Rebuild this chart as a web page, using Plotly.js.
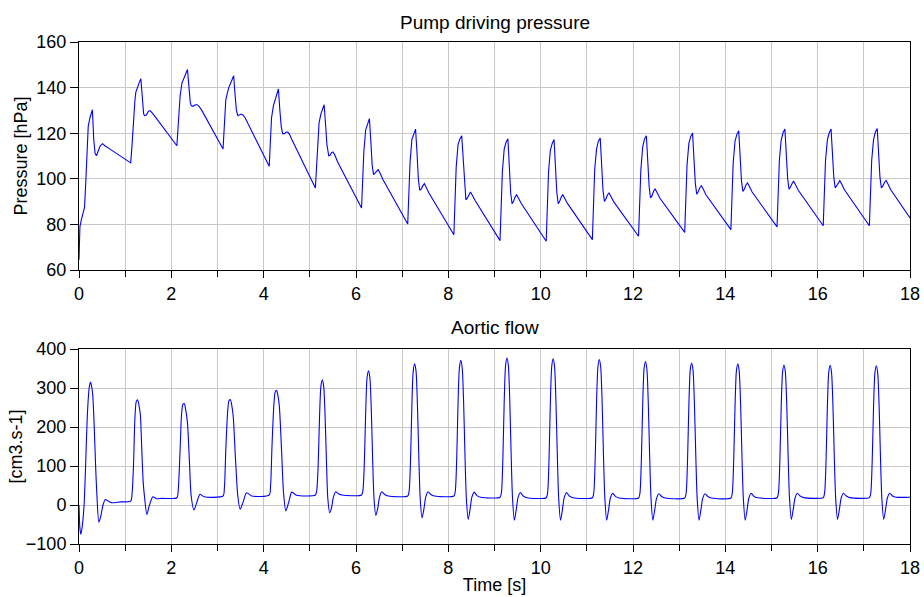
<!DOCTYPE html>
<html>
<head>
<meta charset="utf-8">
<script src="https://cdn.plot.ly/plotly-3.0.1.min.js"></script>
<style>html,body{margin:0;padding:0;background:#fff;}#chart{width:924px;height:597px;}</style>
</head>
<body>
<div id="chart"></div>
<script>
// Pump driving pressure [hPa] vs time [s]
const pressTime = [
  0, 0.02, 0.05, 0.08, 0.12, 0.15, 0.18, 0.2, 0.24, 0.29, 0.32, 0.35, 0.38, 0.42, 0.46, 0.51, 0.56, 0.67, 0.9, 1.12,
  1.15, 1.18, 1.21, 1.23, 1.27, 1.31, 1.34, 1.37, 1.4, 1.42, 1.46, 1.5, 1.54, 1.58, 1.64, 2.12,
  2.15, 2.19, 2.23, 2.27, 2.31, 2.35, 2.38, 2.41, 2.43, 2.47, 2.52, 2.56, 2.6, 2.66, 3.12,
  3.15, 3.18, 3.24, 3.28, 3.32, 3.35, 3.38, 3.41, 3.44, 3.48, 3.51, 3.55, 3.6, 4.12,
  4.15, 4.17, 4.21, 4.25, 4.29, 4.32, 4.35, 4.38, 4.41, 4.45, 4.49, 4.52, 4.56, 4.61, 5.12,
  5.15, 5.17, 5.2, 5.24, 5.28, 5.31, 5.34, 5.37, 5.41, 5.44, 5.47, 5.5, 5.54, 5.6, 6.12,
  6.15, 6.17, 6.21, 6.25, 6.29, 6.32, 6.35, 6.38, 6.41, 6.45, 6.48, 6.52, 6.58, 7.12,
  7.15, 7.17, 7.21, 7.25, 7.29, 7.32, 7.35, 7.38, 7.41, 7.45, 7.48, 7.52, 7.58, 8.12,
  8.15, 8.17, 8.21, 8.25, 8.29, 8.32, 8.35, 8.38, 8.41, 8.45, 8.48, 8.52, 8.58, 9.12,
  9.15, 9.17, 9.21, 9.25, 9.29, 9.32, 9.35, 9.38, 9.41, 9.45, 9.48, 9.52, 9.58, 10.12,
  10.15, 10.17, 10.21, 10.25, 10.29, 10.32, 10.35, 10.38, 10.41, 10.45, 10.48, 10.52, 10.58, 11.12,
  11.15, 11.17, 11.21, 11.25, 11.29, 11.32, 11.35, 11.38, 11.41, 11.45, 11.48, 11.52, 11.58, 12.12,
  12.15, 12.17, 12.21, 12.25, 12.29, 12.32, 12.35, 12.38, 12.41, 12.45, 12.48, 12.52, 12.58, 13.12,
  13.15, 13.17, 13.21, 13.25, 13.29, 13.32, 13.35, 13.38, 13.41, 13.45, 13.48, 13.52, 13.58, 14.12,
  14.15, 14.17, 14.21, 14.25, 14.29, 14.32, 14.35, 14.38, 14.41, 14.45, 14.48, 14.52, 14.58, 15.12,
  15.15, 15.17, 15.21, 15.25, 15.29, 15.32, 15.35, 15.38, 15.41, 15.45, 15.48, 15.52, 15.58, 16.12,
  16.15, 16.17, 16.21, 16.25, 16.29, 16.32, 16.35, 16.38, 16.41, 16.45, 16.48, 16.52, 16.58, 17.12,
  17.15, 17.17, 17.21, 17.25, 17.29, 17.32, 17.35, 17.38, 17.41, 17.45, 17.48, 17.52, 17.58, 18.0
];
const pressValue = [
  64.5, 79, 82, 84, 87.5, 100, 116, 123, 127, 130.3, 117, 111, 110.2, 112, 114.5, 115.4, 114.5, 113, 110, 107,
  115, 126, 134, 137.9, 140.5, 142.5, 143.9, 134, 128.5, 127.7, 128, 129.5, 129.9, 129, 127.5, 114.5,
  124, 136.2, 142, 144.5, 146, 147.9, 140, 133.5, 132.1, 131.8, 132.5, 132.5, 131.8, 130, 113.1,
  124, 134.7, 139.8, 142, 143.8, 145.2, 137, 130, 127.7, 128, 128.4, 128, 126.7, 105.5,
  118, 126.7, 132, 134.7, 137, 139.4, 130.3, 123, 119.8, 119.8, 120.5, 120.5, 119.5, 117.2, 96,
  108, 117, 124.5, 128.5, 131, 132.5, 124, 115, 110.1, 110.3, 111.5, 111.8, 110.5, 107.5, 87.2,
  100, 112, 121.5, 124, 126.4, 117, 106, 101.8, 102.5, 103.8, 104, 102.5, 99.8, 80.2,
  95, 107, 117.2, 120, 121.8, 112, 100, 95, 95.5, 97, 97.9, 96.3, 93.8, 75.5,
  90, 105, 115, 117.5, 118.9, 108, 96, 90.8, 91.5, 93.5, 94.2, 92.8, 90.5, 72.9,
  88, 103, 113, 116, 117.6, 106, 94, 89.1, 90, 92.2, 93, 91.5, 89.2, 72.6,
  88, 103, 112.5, 115.5, 117.2, 106, 94, 89.1, 90, 92.2, 93, 91.5, 89.2, 73.3,
  89, 104, 113, 116.5, 117.9, 107, 95, 90.1, 91, 93, 93.8, 92.3, 90, 74.8,
  90, 104, 114, 117.5, 118.9, 108, 96.5, 91.6, 92.5, 94.7, 95.5, 94, 91.6, 76.5,
  92, 106, 115.5, 118.5, 120.1, 109, 98, 93.3, 94.2, 96.2, 97, 95.5, 93, 77.7,
  93, 107, 116.5, 119.5, 121.1, 110, 99, 94.5, 95.4, 97.4, 98.2, 96.7, 94.2, 78.9,
  94, 108, 117, 120.2, 121.8, 111, 100, 95.5, 96.3, 98.1, 98.9, 97.4, 95, 79.4,
  94, 108, 117, 120.2, 121.8, 111, 100.5, 96, 96.8, 98.4, 99.2, 97.7, 95.2, 79.4,
  94, 108, 117.2, 120.5, 122.1, 111, 100.5, 96, 96.8, 98.5, 99.3, 97.8, 95.3, 82.8
];

// Aortic flow [cm3.s-1] vs time [s]
const flowTime = [
  0, 0.02, 0.04, 0.07, 0.11, 0.14, 0.18, 0.22, 0.25, 0.28, 0.3, 0.33, 0.36, 0.39, 0.43, 0.47, 0.52, 0.57, 0.62, 0.7, 0.9, 1.12,
  1.15, 1.18, 1.21, 1.24, 1.27, 1.3, 1.33, 1.36, 1.39, 1.42, 1.47, 1.52, 1.6, 1.68, 1.8, 2.12,
  2.15, 2.19, 2.22, 2.25, 2.28, 2.31, 2.35, 2.39, 2.43, 2.49, 2.55, 2.62, 2.71, 3.12,
  3.15, 3.18, 3.22, 3.25, 3.28, 3.31, 3.34, 3.39, 3.44, 3.49, 3.55, 3.63, 3.74, 4.12,
  4.15, 4.18, 4.22, 4.25, 4.28, 4.31, 4.34, 4.39, 4.43, 4.48, 4.54, 4.61, 4.71, 5.12,
  5.15, 5.18, 5.21, 5.24, 5.27, 5.30, 5.33, 5.36, 5.39, 5.43, 5.47, 5.51, 5.56, 5.62, 5.70, 6.12,
  6.15, 6.18, 6.21, 6.24, 6.27, 6.30, 6.33, 6.36, 6.39, 6.43, 6.47, 6.51, 6.56, 6.62, 6.70, 7.12,
  7.15, 7.18, 7.21, 7.24, 7.27, 7.30, 7.33, 7.36, 7.39, 7.43, 7.47, 7.51, 7.56, 7.62, 7.70, 8.12,
  8.15, 8.18, 8.21, 8.24, 8.27, 8.30, 8.33, 8.36, 8.39, 8.43, 8.47, 8.51, 8.56, 8.62, 8.70, 9.12,
  9.15, 9.18, 9.21, 9.24, 9.27, 9.30, 9.33, 9.36, 9.39, 9.43, 9.47, 9.51, 9.56, 9.62, 9.70, 10.12,
  10.15, 10.18, 10.21, 10.24, 10.27, 10.30, 10.33, 10.36, 10.39, 10.43, 10.47, 10.51, 10.56, 10.62, 10.70, 11.12,
  11.15, 11.18, 11.21, 11.24, 11.27, 11.30, 11.33, 11.36, 11.39, 11.43, 11.47, 11.51, 11.56, 11.62, 11.70, 12.12,
  12.15, 12.18, 12.21, 12.24, 12.27, 12.30, 12.33, 12.36, 12.39, 12.43, 12.47, 12.51, 12.56, 12.62, 12.70, 13.12,
  13.15, 13.18, 13.21, 13.24, 13.27, 13.30, 13.33, 13.36, 13.39, 13.43, 13.47, 13.51, 13.56, 13.62, 13.70, 14.12,
  14.15, 14.18, 14.21, 14.24, 14.27, 14.30, 14.33, 14.36, 14.39, 14.43, 14.47, 14.51, 14.56, 14.62, 14.70, 15.12,
  15.15, 15.18, 15.21, 15.24, 15.27, 15.30, 15.33, 15.36, 15.39, 15.43, 15.47, 15.51, 15.56, 15.62, 15.70, 16.12,
  16.15, 16.18, 16.21, 16.24, 16.27, 16.30, 16.33, 16.36, 16.39, 16.43, 16.47, 16.51, 16.56, 16.62, 16.70, 17.12,
  17.15, 17.18, 17.21, 17.24, 17.27, 17.30, 17.33, 17.36, 17.39, 17.43, 17.47, 17.51, 17.56, 17.62, 17.70, 18.0
];
const flowValue = [
  0, -60, -75, -55, 0, 90, 228, 300, 315, 300, 278, 200, 100, 20, -44, -30, 0, 14, 11, 6, 8, 10,
  30, 100, 220, 265, 270, 255, 230, 142, 60, 20, -24, -3, 21, 16, 17, 18.6,
  40, 142, 230, 258, 260, 245, 210, 117, 23, -13, 6, 27.6, 21, 23,
  45, 142, 240, 268, 270, 255, 228, 117, 23, -11, 6, 31.6, 23, 25.6,
  50, 150, 255, 290, 294, 280, 253, 134, 31.6, -15, 6, 33, 25, 25.6,
  38, 100, 225, 305, 321, 305, 230, 112, 16, -20, -7, 20, 34, 29, 25.6, 25.6,
  38, 105, 240, 327, 344, 327, 248, 120, 17, -27, -9, 20, 34, 27, 23, 23,
  35, 110, 253, 344, 362, 344, 260, 127, 18, -33, -11, 20, 34, 27, 23, 23,
  35, 112, 260, 352, 371, 352, 267, 130, 18, -37, -12, 20, 33, 24, 20, 20,
  32, 113, 264, 358, 377, 358, 271, 132, 18, -39, -13, 19, 32, 23, 18.6, 18.6,
  31, 113, 263, 356, 375, 356, 270, 131, 18, -39, -13, 19, 32, 23, 18.6, 18.6,
  31, 112, 261, 354, 373, 354, 269, 131, 18, -39, -13, 18, 30, 22, 18, 18,
  30, 110, 258, 350, 368, 350, 265, 129, 17, -39, -13, 17, 29, 22, 17.8, 17.8,
  30, 109, 255, 346, 364, 346, 262, 127, 17, -39, -13, 17, 29, 22, 17.8, 17.8,
  30, 109, 253, 344, 362, 344, 261, 127, 17, -39, -13, 18, 30, 22, 18.6, 18.6,
  31, 108, 251, 341, 359, 341, 258, 126, 17, -37, -12, 18, 30, 23, 19, 19,
  31, 107, 251, 340, 358, 340, 258, 125, 17, -37, -12, 18, 30, 23, 19, 19,
  31, 107, 250, 339, 357, 339, 257, 125, 17, -37, -12, 18, 30, 23, 20, 20
];

const xTickVals = [0, 2, 4, 6, 8, 10, 12, 14, 16, 18];
const pressTicks = [60, 80, 100, 120, 140, 160];
const flowTicks = [-100, 0, 100, 200, 300, 400];

const FONT = 'Liberation Sans, Arial, sans-serif';
const gridColor = '#c8c8c8';
const TICK_SIZE = 18;

const traces = [
  {x: pressTime, y: pressValue, type: 'scatter', mode: 'lines', xaxis: 'x', yaxis: 'y',
   line: {color: '#0000ff', width: 1.1}, hoverinfo: 'skip'},
  {x: flowTime, y: flowValue, type: 'scatter', mode: 'lines', xaxis: 'x2', yaxis: 'y2',
   line: {color: '#0000ff', width: 1.1, shape: 'spline', smoothing: 0.7}, hoverinfo: 'skip'}
];

function xAxis(anchor, title) {
  const ax = {
    domain: [0, 1], anchor: anchor, range: [0, 18],
    tickvals: xTickVals, ticks: 'outside', ticklen: 7, tickcolor: '#000',
    showgrid: true, gridcolor: gridColor, gridwidth: 1,
    showline: true, linecolor: '#000', linewidth: 1, mirror: true,
    zeroline: false,
    tickfont: {family: FONT, size: TICK_SIZE, color: '#000'},
    minor: {dtick: 1, tick0: 0, ticks: 'outside', ticklen: 6, tickcolor: '#000', showgrid: true, gridcolor: gridColor, gridwidth: 1}
  };
  if (title) ax.title = {text: title, font: {family: FONT, size: 18, color: '#000'}, standoff: 1};
  return ax;
}
function yAxis(anchor, domain, range, ticks, title, standoff) {
  const ax = {
    domain: domain, anchor: anchor, range: range, tickvals: ticks,
    ticks: 'outside', ticklen: 8, tickcolor: '#000',
    showgrid: true, gridcolor: gridColor, gridwidth: 1,
    showline: true, linecolor: '#000', linewidth: 1, mirror: true,
    zeroline: false,
    tickfont: {family: FONT, size: TICK_SIZE, color: '#000'}
  };
  if (title) ax.title = {text: title, font: {family: FONT, size: 18, color: '#000'}, standoff: standoff};
  return ax;
}

const layout = {
  width: 924, height: 597,
  margin: {l: 79, r: 14, t: 42, b: 53},
  paper_bgcolor: '#fff', plot_bgcolor: '#fff',
  showlegend: false,
  xaxis: xAxis('y', null),
  yaxis: yAxis('x', [0.5458, 1], [60, 160], pressTicks, 'Pressure [hPa]', 4),
  xaxis2: xAxis('y2', 'Time [s]'),
  yaxis2: yAxis('x2', [0, 0.3884], [-100, 400], flowTicks, null, 0),
  annotations: [
    {text: 'Pump driving pressure', xref: 'paper', yref: 'paper', x: 0.5, y: 1, yshift: 20,
     xanchor: 'center', yanchor: 'middle', showarrow: false, font: {family: FONT, size: 19, color: '#000'}},
    {text: 'Aortic flow', xref: 'paper', yref: 'paper', x: 0.5, y: 0.3884, yshift: 22,
     xanchor: 'center', yanchor: 'middle', showarrow: false, font: {family: FONT, size: 19, color: '#000'}},
    {text: '[cm3.s-1]', xref: 'paper', yref: 'paper', x: 0, xshift: -63, y: 0.1942,
     xanchor: 'center', yanchor: 'middle', textangle: -90, showarrow: false, font: {family: FONT, size: 18, color: '#000'}}
  ]
};

Plotly.newPlot('chart', traces, layout, {displayModeBar: false, staticPlot: true});
</script>
</body>
</html>
